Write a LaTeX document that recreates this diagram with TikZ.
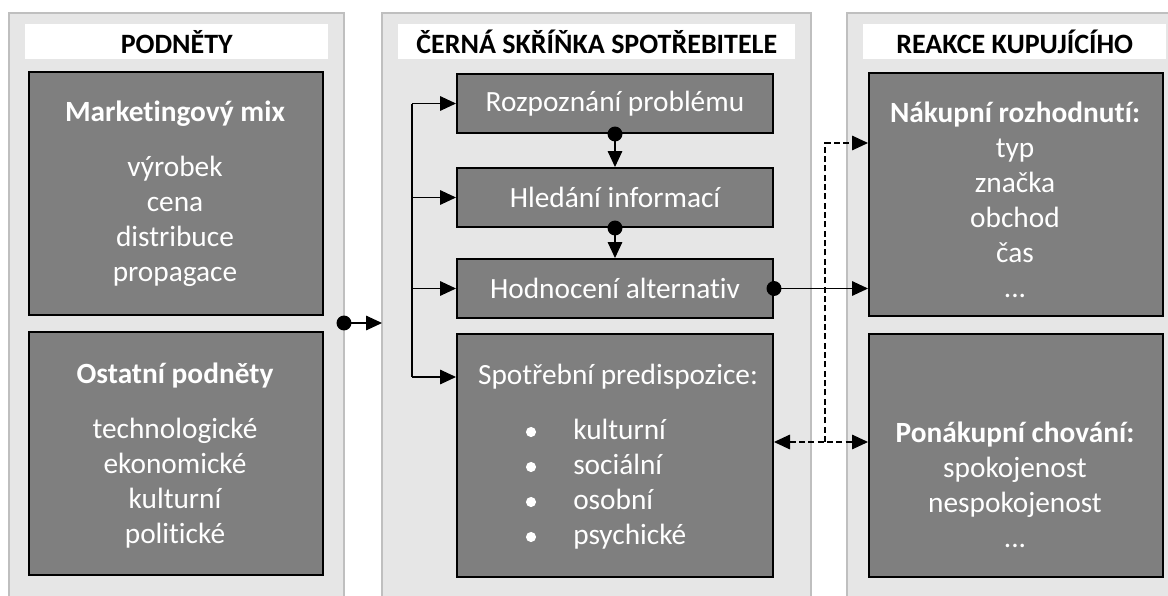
\documentclass[tikz,border=0pt]{standalone}
\usepackage{fontspec}
\setmainfont[Ligatures=NoCommon]{Carlito}
\usetikzlibrary{arrows.meta}

\begin{document}
\begin{tikzpicture}[x=0.75pt,y=0.75pt,yscale=-1,xscale=1,
  panel/.style={draw={rgb, 255:red, 191; green, 191; blue, 191 },fill={rgb, 255:red, 230; green, 230; blue, 230 },line width=1.5pt},
  head/.style={fill=white,inner sep=0pt,anchor=north west,minimum height=26.25pt,font=\fontsize{21}{26.25}\selectfont\bfseries},
  darkbox/.style={draw=black,fill={rgb, 255:red, 127; green, 127; blue, 127 },line width=1.5pt,inner sep=0pt,anchor=north west,text=white,font=\fontsize{22}{26.25}\selectfont},
  boxtxt/.style={text=white,align=center,inner sep=0pt,font=\fontsize{22}{26.25}\selectfont},
  arr/.style={line width=0.8pt,-{Triangle[length=12pt,width=11pt]}},
  dasharr/.style={arr,dash pattern=on 4.5pt off 2.5pt}
]
\useasboundingbox (0,0) rectangle (1168,596);

%Shape: Rectangle [panels]
\draw [panel] (9,13) rectangle (344,610) ;
\draw [panel] (382,13) rectangle (811,610) ;
\draw [panel] (847,13) rectangle (1190,610) ;

% Text Node [headers]
\node [head,minimum width=227.25pt] (hleft) at (25,24) {PODNĚTY};
\node [head,minimum width=297.75pt] (hmid) at (398,24) {ČERNÁ SKŘÍŇKA SPOTŘEBITELE};
\node [head,minimum width=227.25pt] (hright) at (863,24) {REAKCE KUPUJÍCÍHO};

%Shape: Rectangle [left]
\node [darkbox,minimum width=220.5pt,minimum height=182.25pt] (mix) at (28,71) {};
\node [darkbox,minimum width=220.5pt,minimum height=182.25pt] (other) at (28,331) {};

%Shape: Rectangle [middle]
\node [darkbox,minimum width=237pt,minimum height=44.25pt] (rozp) at (456,73) {Rozpoznání problému};
\node [darkbox,minimum width=237pt,minimum height=44.25pt] (hled) at (456,167) {Hledání informací};
\node [darkbox,minimum width=237pt,minimum height=44.25pt] (hodn) at (456,258) {Hodnocení alternativ};
\node [darkbox,minimum width=237pt,minimum height=182.25pt] (predis) at (456,333) {};

%Shape: Rectangle [right]
\node [darkbox,minimum width=220.5pt,minimum height=182.25pt] (nakup) at (868,72) {};
\node [darkbox,minimum width=220.5pt,minimum height=182.25pt] (ponak) at (868,333) {};

% Text Node
\node [boxtxt] (mixtxt) at (175,194) {\textbf{Marketingový mix}\\[15pt] výrobek\\ cena\\ distribuce\\ propagace};
% Text Node
\node [boxtxt] (othertxt) at (175,456) {\textbf{Ostatní podněty}\\[15pt] technologické\\ ekonomické\\ kulturní\\ politické};
% Text Node
\node [boxtxt] (predistxt) at (618,377) {Spotřební predispozice:};
% Text Node
\node [boxtxt,align=left,anchor=west] (predislist) at (573,484) {kulturní\\ sociální\\ osobní\\ psychické};
% Text Node
\node [boxtxt] (nakuptxt) at (1015,200) {\textbf{Nákupní rozhodnutí:}\\ typ\\ značka\\ obchod\\ čas\\ ...};
% Text Node
\node [boxtxt] (ponaktxt) at (1015,485) {\textbf{Ponákupní chování:}\\ spokojenost\\ nespokojenost\\ ...};

%Shape: Circle [bullets]
\fill [white] (531,432) circle [radius=3.8pt] ;
\fill [white] (531,467) circle [radius=3.8pt] ;
\fill [white] (531,502) circle [radius=3.8pt] ;
\fill [white] (531,537) circle [radius=3.8pt] ;

% connectors
\coordinate (stim) at (344,323);
\coordinate (midin) at (382,323);
\coordinate (bus) at (412,0);
\coordinate (predisin) at (456,377);
\coordinate (dv) at (825,442);
\coordinate (nakupin) at (868,143);

%Straight Lines
\draw [arr] (stim) -- (midin) ;
\fill (stim) circle [radius=5.6pt] ;
\draw [line width=0.8pt] (bus |- rozp.west) -- (bus |- predisin) ;
\draw [arr] (bus |- rozp.west) -- (rozp.west) ;
\draw [arr] (bus |- hled.west) -- (hled.west) ;
\draw [arr] (bus |- hodn.west) -- (hodn.west) ;
\draw [arr] (bus |- predisin) -- (predisin) ;
\draw [arr] (rozp.south) -- (hled.north) ;
\fill (rozp.south) circle [radius=5.6pt] ;
\draw [arr] (hled.south) -- (hodn.north) ;
\fill (hled.south) circle [radius=5.6pt] ;
\draw [arr] (hodn.east) -- (nakup.west |- hodn.east) ;
\fill (hodn.east) circle [radius=5.6pt] ;
\draw [dasharr] (dv) |- (nakupin) ;
\draw [dasharr,{Triangle[length=12pt,width=11pt]}-{Triangle[length=12pt,width=11pt]}] (predis.east |- dv) -- (ponak.west |- dv) ;

\end{tikzpicture}
\end{document}
